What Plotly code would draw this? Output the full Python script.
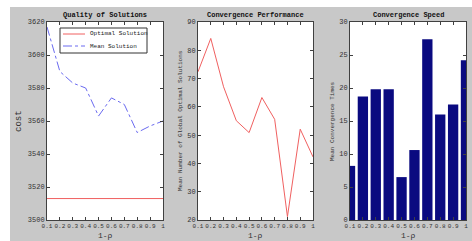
import plotly.graph_objects as go

W, H = 472, 241

x_vals = [0.1, 0.2, 0.3, 0.4, 0.5, 0.6, 0.7, 0.8, 0.9, 1.0]
x_ticktext = ["0.1", "0.2", "0.3", "0.4", "0.5", "0.6", "0.7", "0.8", "0.9", "1"]

optimal_solution = [3513] * 10
mean_solution = [3617, 3590, 3583, 3580, 3563, 3574, 3570, 3553, 3557, 3560]

mean_global_optimal = [72.4, 84.2, 67.1, 55.1, 50.9, 63.3, 55.6, 21.2, 52.1, 42.3]

convergence_times = [8.2, 18.7, 19.8, 19.8, 6.5, 10.6, 27.4, 16.0, 17.5, 24.2]

GRAY = "#c8c8c8"
RED = "#f06060"
BLUE = "#6a6af0"
FONT = "Liberation Mono"


def px_x(p):
    return p / W


def px_y(p):
    return 1 - p / H


y_dom = [px_y(220), px_y(22)]
doms = [[px_x(47), px_x(163)], [px_x(198), px_x(313)], [px_x(350), px_x(466)]]

fig = go.Figure()

fig.add_trace(go.Scatter(x=x_vals, y=optimal_solution, mode="lines", name="Optimal Solution",
                         line=dict(color=RED, width=1), xaxis="x", yaxis="y"))
fig.add_trace(go.Scatter(x=x_vals, y=mean_solution, mode="lines", name="Mean Solution",
                         line=dict(color=BLUE, width=1, dash="dashdot"), xaxis="x", yaxis="y"))
fig.add_trace(go.Scatter(x=x_vals, y=mean_global_optimal, mode="lines",
                         line=dict(color=RED, width=1), xaxis="x2", yaxis="y2"))
fig.add_trace(go.Bar(x=x_vals, y=convergence_times, width=0.08,
                     marker=dict(color="#0a0a80", line=dict(width=0)), xaxis="x3", yaxis="y3"))

axis_common = dict(showgrid=False, zeroline=False, showline=True, linecolor="#404040", linewidth=1,
                   mirror="ticks", ticks="inside", ticklen=3, tickcolor="#404040",
                   tickfont=dict(family=FONT, size=7, color="#333333"), automargin=False)

xa = dict(axis_common, range=[0.1, 1.0], tickvals=x_vals, ticktext=x_ticktext, tickangle=0,
          tickfont=dict(family=FONT, size=6, color="#333333"))

fig.update_layout(
    width=W, height=H,
    margin=dict(l=0, r=0, t=0, b=0),
    paper_bgcolor=GRAY, plot_bgcolor="white",
    font=dict(family=FONT, size=7, color="#222222"),
    xaxis=dict(xa, domain=doms[0], anchor="y"),
    yaxis=dict(axis_common, domain=y_dom, anchor="x", range=[3500, 3620], dtick=20),
    xaxis2=dict(xa, domain=doms[1], anchor="y2"),
    yaxis2=dict(axis_common, domain=y_dom, anchor="x2", range=[20, 90], dtick=10),
    xaxis3=dict(xa, domain=doms[2], anchor="y3"),
    yaxis3=dict(axis_common, domain=y_dom, anchor="x3", range=[0, 30], dtick=5),
    showlegend=False,
)

# white strip at top and left (outside the gray figure area)
fig.add_shape(type="rect", xref="paper", yref="paper", x0=0, x1=1, y0=px_y(7), y1=1,
              fillcolor="white", line=dict(width=0), layer="below")
fig.add_shape(type="rect", xref="paper", yref="paper", x0=0, x1=px_x(10), y0=0, y1=1,
              fillcolor="white", line=dict(width=0), layer="below")

# custom legend box (panel 1)
fig.add_shape(type="rect", xref="paper", yref="paper", x0=px_x(60), x1=px_x(147),
              y0=px_y(53), y1=px_y(28), fillcolor="white", line=dict(color="#333333", width=1))
legend_items = [("Optimal Solution", RED, "solid", 34), ("Mean Solution", BLUE, "dashdot", 46)]
for name, col, dash, py in legend_items:
    fig.add_shape(type="line", xref="paper", yref="paper", x0=px_x(63), x1=px_x(85),
                  y0=px_y(py), y1=px_y(py), line=dict(color=col, width=1, dash=dash))
    fig.add_annotation(text=name, xref="paper", yref="paper", x=px_x(88), y=px_y(py),
                       xanchor="left", yanchor="middle", showarrow=False,
                       font=dict(family=FONT, size=6, color="#222222"))

titles = ["Quality of Solutions", "Convergence Performance", "Convergence Speed"]
for d, t in zip(doms, titles):
    fig.add_annotation(text="<b>" + t + "</b>", xref="paper", yref="paper", x=(d[0] + d[1]) / 2,
                       y=px_y(15), xanchor="center", yanchor="middle", showarrow=False,
                       font=dict(family=FONT, size=7, color="#111111"))
    fig.add_annotation(text="1-ρ", xref="paper", yref="paper", x=(d[0] + d[1]) / 2,
                       y=px_y(235), xanchor="center", yanchor="middle", showarrow=False,
                       font=dict(family=FONT, size=8, color="#333333"))

ylabels = [("cost", 19, 9), ("Mean Number of Global Optimal Solutions", 180, 6),
           ("Mean Convergence Times", 332, 6)]
for t, px, fs in ylabels:
    fig.add_annotation(text=t, xref="paper", yref="paper", x=px_x(px), y=px_y(121), textangle=-90,
                       xanchor="center", yanchor="middle", showarrow=False,
                       font=dict(family=FONT, size=fs, color="#333333"))

fig.write_html("out.html", config={"displayModeBar": False},
               post_script="document.body.style.margin='0';")
